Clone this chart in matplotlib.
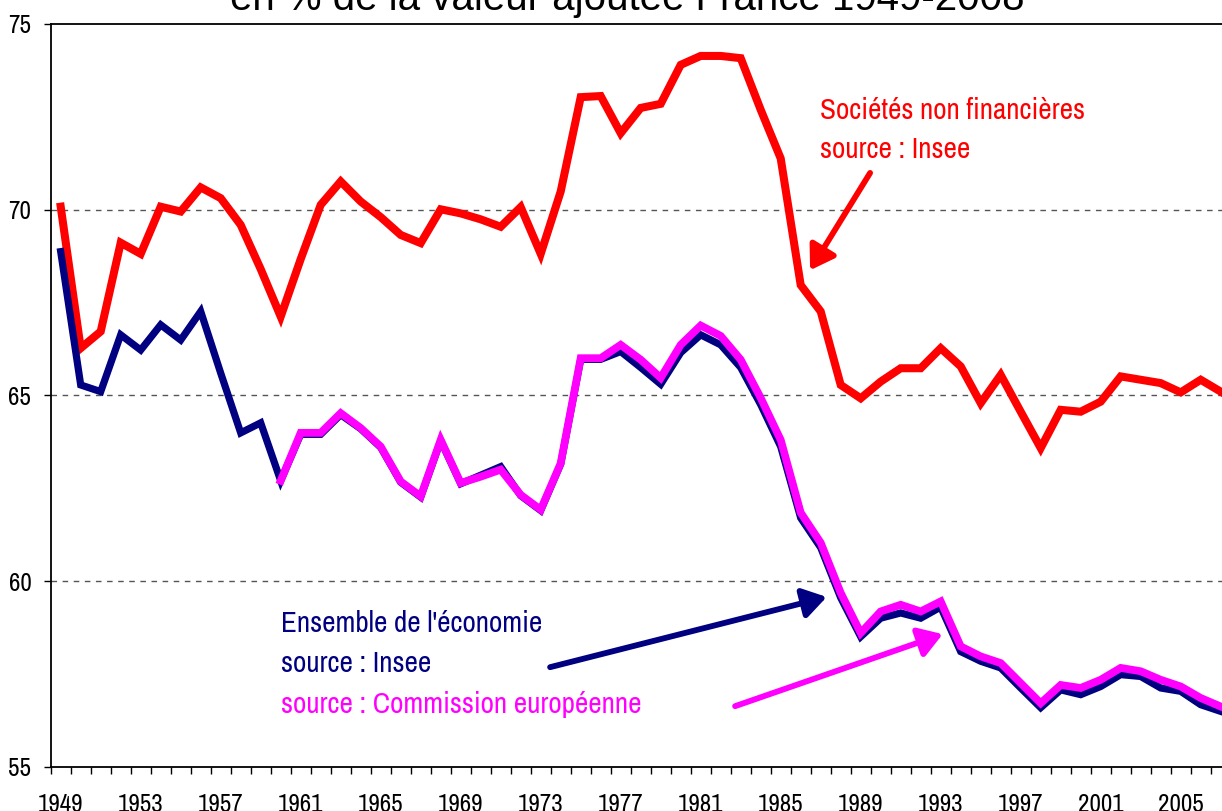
import numpy as np
import matplotlib.pyplot as plt
from matplotlib import font_manager

# Parts des salaires, en % de la valeur ajoutee, France
years = list(range(1949, 2008))

snf_insee = [70.08, 66.27, 66.72, 69.11, 68.81, 70.08, 69.95, 70.60, 70.31, 69.59,
             68.40, 67.12, 68.67, 70.13, 70.76, 70.22, 69.80, 69.32, 69.10, 70.01,
             69.90, 69.74, 69.54, 70.07, 68.81, 70.49, 73.03, 73.06, 72.06, 72.74,
             72.85, 73.90, 74.14, 74.14, 74.08, 72.69, 71.38, 67.97, 67.26, 65.28,
             64.92, 65.37, 65.73, 65.73, 66.27, 65.78, 64.79, 65.55, 64.56, 63.58,
             64.61, 64.56, 64.83, 65.51, 65.42, 65.33, 65.08, 65.42, 65.10]

eco_insee = [68.87, 65.28, 65.10, 66.63, 66.22, 66.90, 66.49, 67.26, 65.60, 63.99,
             64.26, 62.70, 63.95, 63.95, 64.48, 64.10, 63.60, 62.66, 62.26, 63.78,
             62.62, 62.85, 63.08, 62.30, 61.90, 63.15, 65.97, 65.97, 66.18, 65.75,
             65.30, 66.15, 66.63, 66.36, 65.75, 64.75, 63.62, 61.70, 60.90, 59.55,
             58.50, 59.00, 59.14, 59.00, 59.30, 58.10, 57.84, 57.66, 57.12, 56.59,
             57.07, 56.94, 57.16, 57.48, 57.43, 57.12, 57.03, 56.67, 56.49]

ce_start = 1960
eco_ce = [62.70, 63.99, 63.99, 64.52, 64.12, 63.62, 62.68, 62.28, 63.80, 62.64,
          62.81, 63.00, 62.32, 61.92, 63.17, 66.00, 66.00, 66.36, 65.96, 65.47,
          66.36, 66.88, 66.60, 65.96, 64.93, 63.80, 61.84, 61.03, 59.68, 58.60,
          59.18, 59.36, 59.18, 59.45, 58.24, 57.97, 57.79, 57.25, 56.71, 57.20,
          57.12, 57.34, 57.66, 57.57, 57.34, 57.16, 56.85, 56.62]

label_years = list(range(1949, 2008, 4))
y_ticks = [55, 60, 65, 70, 75]

# the original uses a narrow Arial; use a narrow face if there is one,
# otherwise Liberation Sans a bit smaller so the widths still fit
narrow_names = sorted({f.name for f in font_manager.fontManager.ttflist
                       if 'Narrow' in f.name or 'Condensed' in f.name})
if narrow_names:
    narrow = [narrow_names[0], 'DejaVu Sans']
    k = 1.0
else:
    narrow = ['Liberation Sans', 'DejaVu Sans']
    k = 0.84

red, navy, magenta = '#FF0000', '#000080', '#FF00FF'

fig = plt.figure(figsize=(12.22, 8.11), dpi=100)
W, H = 1222, 811
ax = fig.add_axes([50.7 / W, (H - 766.7) / H, 1180 / W, (766.7 - 24) / H])

x = np.arange(len(years))
x_ce = np.arange(years.index(ce_start), len(years))

ax.plot(x, snf_insee, color=red, lw=5.8, solid_joinstyle='miter', zorder=3)
ax.plot(x, eco_insee, color=navy, lw=5.2, solid_joinstyle='miter', zorder=3)
ax.plot(x_ce, eco_ce, color=magenta, lw=5.6, solid_joinstyle='miter', zorder=4)

ax.set_xlim(-0.5, len(years) - 0.5)
ax.set_ylim(55, 75)

# grid lines
for g in [60, 65, 70]:
    ax.axhline(g, color='#555555', lw=1.0, ls=(0, (4, 4)), zorder=1)

ax.spines['right'].set_visible(False)
for s in ['left', 'bottom', 'top']:
    ax.spines[s].set_color('black')
    ax.spines[s].set_linewidth(1.3)

# category boundaries as ticks, labels every 4 years on the centres
ax.set_xticks(np.arange(-0.5, len(years), 1.0))
ax.set_xticklabels([])
ax.tick_params(axis='x', which='major', length=5, width=1, direction='out', color='black')
lab_pos = [years.index(y) for y in label_years]
ax.set_xticks(lab_pos, minor=True)
ax.set_xticklabels([str(y) for y in label_years], minor=True, family=narrow, fontsize=18 * k)
ax.tick_params(axis='x', which='minor', length=0, pad=19)

ax.set_yticks(y_ticks)
ax.set_yticklabels([str(v) for v in y_ticks], family=narrow, fontsize=18 * k)
ax.tick_params(axis='y', length=5, width=1, direction='out', pad=9)

# annotations
fs = 21 * k
ax.text(37.95, 72.44, 'Sociétés non financières', color=red, family=narrow, fontsize=fs)
ax.text(37.95, 71.38, 'source : Insee', color=red, family=narrow, fontsize=fs)
ax.annotate('', xy=(37.47, 68.37), xytext=(40.47, 70.99),
            arrowprops=dict(arrowstyle='-|>,head_width=0.45,head_length=0.7',
                            color=red, lw=4.2, mutation_scale=20, shrinkA=0, shrinkB=0))

ax.text(11.0, 58.63, "Ensemble de l'économie", color=navy, family=narrow, fontsize=fs)
ax.text(11.0, 57.56, 'source : Insee', color=navy, family=narrow, fontsize=fs)
ax.text(11.0, 56.44, 'source : Commission européenne', color=magenta, family=narrow, fontsize=fs)
ax.annotate('', xy=(38.3, 59.57), xytext=(24.47, 57.68),
            arrowprops=dict(arrowstyle='-|>,head_width=0.45,head_length=0.7',
                            color=navy, lw=4.2, mutation_scale=20, shrinkA=0, shrinkB=0))
ax.annotate('', xy=(44.1, 58.57), xytext=(33.72, 56.63),
            arrowprops=dict(arrowstyle='-|>,head_width=0.45,head_length=0.7',
                            color=magenta, lw=4.2, mutation_scale=20, shrinkA=0, shrinkB=0))

# title, mostly cut off at the top in the original
fig.text(627 / W, 1 - 10 / H, 'en % de la valeur ajoutée France 1949-2008',
         ha='center', va='baseline', family=['Liberation Sans', 'DejaVu Sans'], fontsize=29)

fig.savefig('out.png', dpi=100)
